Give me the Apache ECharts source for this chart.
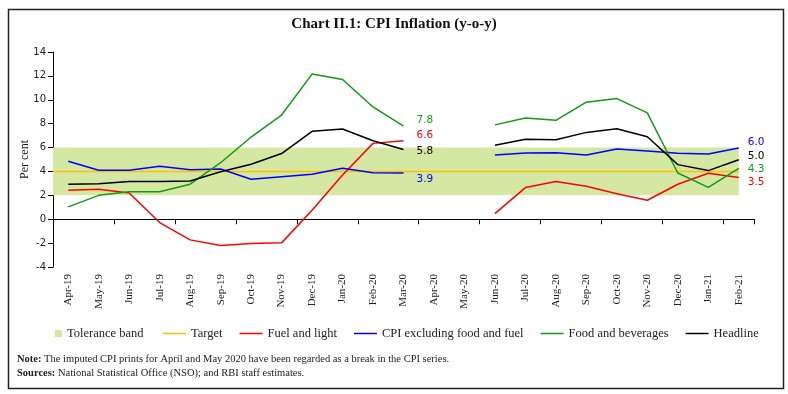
<!DOCTYPE html>
<html>
<head>
<meta charset="utf-8">
<script src="https://cdn.jsdelivr.net/npm/echarts@6/dist/echarts.min.js"></script>
<style>
html,body{margin:0;padding:0;background:#fff}
#c{width:788px;height:394px}
</style>
</head>
<body>
<div id="c"></div>
<script>
// ---- data ----
const categories = ['Apr-19','May-19','Jun-19','Jul-19','Aug-19','Sep-19','Oct-19','Nov-19','Dec-19','Jan-20','Feb-20','Mar-20','Apr-20','May-20','Jun-20','Jul-20','Aug-20','Sep-20','Oct-20','Nov-20','Dec-20','Jan-21','Feb-21'];
const fuelAndLight = [2.42, 2.5, 2.2, -0.28, -1.73, -2.2, -2.04, -1.98, 0.75, 3.7, 6.35, 6.57, null, null, 0.47, 2.65, 3.15, 2.76, 2.14, 1.59, 2.93, 3.85, 3.5];
const cpiExFoodFuel = [4.85, 4.1, 4.1, 4.43, 4.15, 4.2, 3.34, 3.56, 3.76, 4.26, 3.9, 3.88, null, null, 5.38, 5.54, 5.57, 5.38, 5.88, 5.71, 5.52, 5.46, 5.96];
const foodAndBeverages = [1.03, 2.0, 2.3, 2.3, 2.93, 4.73, 6.88, 8.72, 12.15, 11.7, 9.4, 7.8, null, null, 7.9, 8.47, 8.28, 9.8, 10.1, 8.9, 3.87, 2.67, 4.26];
const headline = [2.93, 2.98, 3.15, 3.15, 3.2, 3.98, 4.6, 5.5, 7.36, 7.55, 6.57, 5.84, null, null, 6.19, 6.69, 6.66, 7.27, 7.58, 6.9, 4.57, 4.07, 4.98];
const targetValue = 4;
const toleranceBand = [2, 6];
const yMin = -4, yMax = 14, yInterval = 2;
const titleText = 'Chart II.1: CPI Inflation (y-o-y)';
const noteText = 'The imputed CPI prints for April and May 2020 have been regarded as a break in the CPI series.';
const sourcesText = 'National Statistical Office (NSO); and RBI staff estimates.';

// ---- styling ----
const SERIF = '"Liberation Serif", "Times New Roman", serif';
const SANS = '"DejaVu Sans", Verdana, sans-serif';
const C_RED = '#ff0000', C_BLUE = '#0000ff', C_GREEN = '#129a12', C_BLACK = '#000000';
const C_TARGET = '#ffc000', C_BAND = '#d5e8a3';
const breakEnd = categories.indexOf('Mar-20');
const lastIdx = categories.length - 1;

function buildData(values, color, dyBreak, dyEnd) {
  return values.map(function (v, i) {
    if (i === breakEnd || i === lastIdx) {
      return {
        value: v,
        label: {
          show: true, position: 'right',
          offset: i === breakEnd ? [8, dyBreak] : [4, dyEnd],
          formatter: function (p) { return p.value.toFixed(1); },
          color: color, fontFamily: SANS, fontSize: 10.5
        }
      };
    }
    return v;
  });
}

function lineSeries(name, values, color, dyBreak, dyEnd) {
  return {
    name: name, type: 'line', data: buildData(values, color, dyBreak, dyEnd),
    symbol: 'circle', symbolSize: 0, showSymbol: true, showAllSymbol: true,
    connectNulls: false, silent: true, z: 3,
    color: color, itemStyle: { color: color },
    lineStyle: { color: color, width: 1.5 },
    emphasis: { disabled: true }
  };
}

const chart = echarts.init(document.getElementById('c'), null, { renderer: 'canvas' });
chart.setOption({
  animation: false,
  backgroundColor: '#ffffff',
  title: {
    text: titleText, left: 'center', top: 12,
    textStyle: { fontFamily: SERIF, fontWeight: 'bold', fontSize: 15, color: '#111' }
  },
  grid: { left: 53, right: 34, top: 52, bottom: 127, containLabel: false },
  xAxis: [
    {
      type: 'category', data: categories, boundaryGap: true, position: 'bottom',
      axisLine: { show: true, onZero: true, lineStyle: { color: '#000', width: 1 } },
      axisTick: { show: true, length: 5, inside: false, lineStyle: { color: '#000' } },
      axisLabel: { show: false },
      splitLine: { show: false }
    },
    {
      type: 'category', data: categories, boundaryGap: true, position: 'bottom',
      axisLine: { show: false, onZero: false },
      axisTick: { show: false },
      axisLabel: { show: true, rotate: 90, interval: 0, margin: 7, fontFamily: SERIF, fontSize: 11, color: '#222' },
      splitLine: { show: false }
    }
  ],
  yAxis: {
    type: 'value', min: yMin, max: yMax, interval: yInterval,
    name: 'Per cent', nameLocation: 'middle', nameGap: 22, nameMoveOverlap: false,
    nameTextStyle: { fontFamily: SERIF, fontSize: 12, color: '#222' },
    axisLine: { show: true, lineStyle: { color: '#000', width: 1 } },
    axisTick: { show: true, length: 5, lineStyle: { color: '#000' } },
    axisLabel: { margin: 7, fontFamily: SANS, fontSize: 10, color: '#222' },
    splitLine: { show: false }
  },
  legend: [
    {
      data: ['Tolerance band'], left: 50, top: 322, icon: 'rect',
      itemWidth: 7, itemHeight: 7, selectedMode: false,
      textStyle: { fontFamily: SERIF, fontSize: 12.5, color: '#222' }
    },
    {
      data: ['Target', 'Fuel and light', 'CPI excluding food and fuel', 'Food and beverages', 'Headline'],
      left: 158, top: 322, width: 625, icon: 'rect', itemWidth: 23, itemHeight: 1.5, itemGap: 17, selectedMode: false,
      textStyle: { fontFamily: SERIF, fontSize: 12.5, color: '#222' }
    }
  ],
  series: [
    {
      name: 'Tolerance band', type: 'line', data: [], color: C_BAND, itemStyle: { color: C_BAND },
      silent: true,
      markArea: {
        silent: true, z: 1, label: { show: false },
        itemStyle: { color: C_BAND },
        emphasis: { disabled: true },
        data: [[{ yAxis: toleranceBand[0] }, { xAxis: categories[lastIdx], yAxis: toleranceBand[1] }]]
      }
    },
    {
      name: 'Target', type: 'line', data: [], color: C_TARGET, itemStyle: { color: C_TARGET },
      silent: true,
      markArea: {
        silent: true, z: 2, label: { show: false },
        itemStyle: { color: 'rgba(0,0,0,0)', borderColor: C_TARGET, borderWidth: 1.5 },
        emphasis: { disabled: true },
        data: [[{ yAxis: targetValue }, { xAxis: categories[lastIdx], yAxis: targetValue }]]
      }
    },
    lineSeries('Fuel and light', fuelAndLight, C_RED, -5, 5),
    lineSeries('CPI excluding food and fuel', cpiExFoodFuel, C_BLUE, 6, -6),
    lineSeries('Food and beverages', foodAndBeverages, C_GREEN, -6, 1),
    lineSeries('Headline', headline, C_BLACK, 2, -3)
  ],
  graphic: [
    {
      type: 'rect', left: 6, top: 7, silent: true,
      shape: { width: 775, height: 379 },
      style: { fill: 'none', stroke: '#222', lineWidth: 1.5 }
    },
    {
      type: 'text', left: 17, top: 354, silent: true,
      style: {
        text: '{b|Note:} ' + noteText,
        font: '10.5px ' + SERIF, fill: '#222',
        rich: { b: { fontWeight: 'bold', fontFamily: SERIF, fontSize: 10.5, fill: '#222' } }
      }
    },
    {
      type: 'text', left: 17, top: 368, silent: true,
      style: {
        text: '{b|Sources:} ' + sourcesText,
        font: '10.5px ' + SERIF, fill: '#222',
        rich: { b: { fontWeight: 'bold', fontFamily: SERIF, fontSize: 10.5, fill: '#222' } }
      }
    }
  ]
});
</script>
</body>
</html>
